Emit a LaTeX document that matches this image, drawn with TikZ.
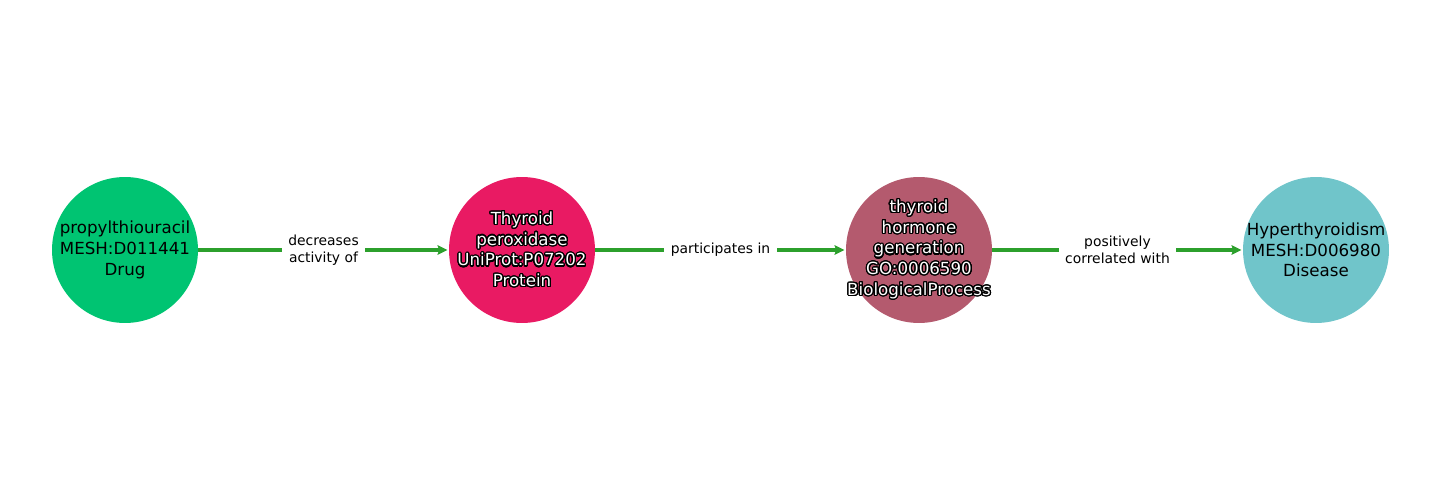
\documentclass[tikz,border=0pt]{standalone}
\usepackage{fontspec}
\setmainfont{DejaVu Sans}
\usepackage{xcolor}
\usepackage{contour}
\usetikzlibrary{arrows.meta,positioning}
\contourlength{0.9pt}
\contournumber{24}
\definecolor{drugcol}{HTML}{00C472}
\definecolor{protcol}{HTML}{E91A63}
\definecolor{proccol}{HTML}{B45A6E}
\definecolor{discol}{HTML}{70C5CA}
\definecolor{edgecol}{HTML}{2CA02C}
\newcommand{\halo}[1]{\contour{black}{\textcolor{white}{#1}}}

\begin{document}
\begin{tikzpicture}[x=0.72pt,y=0.72pt,node distance=285.84pt,
  entity/.style={circle,minimum size=105.1pt,inner sep=0pt},
  caption/.style={align=center,inner sep=0pt,
    font=\fontsize{12}{14.9}\selectfont},
  every edge/.append style={draw=edgecol,line width=2.2pt,
    -{Stealth[length=7pt,width=6.8pt,inset=1pt]},shorten >=1pt},
  rel/.style={fill=white,align=center,inner xsep=4.6pt,inner ysep=2pt,
    font=\fontsize{10}{12.2}\selectfont}]
  \useasboundingbox (0,0) rectangle (1440,500);
  \node[entity,fill=drugcol] (1) at (125,250) {};
  \node[entity,fill=protcol] (2) [right of=1] {};
  \node[entity,fill=proccol] (3) [right of=2] {};
  \node[entity,fill=discol] (4) [right of=3] {};
  % texts on top of the circles
  \node[caption] (1t) at (1) {propylthiouracil\\MESH:D011441\\Drug};
  \node[caption] (2t) at (2) {\halo{Thyroid}\\\halo{peroxidase}\\\halo{UniProt:P07202}\\\halo{Protein}};
  \node[caption] (3t) at (3) {\halo{thyroid}\\\halo{hormone}\\\halo{generation}\\\halo{GO:0006590}\\\halo{BiologicalProcess}};
  \node[caption] (4t) at (4) {Hyperthyroidism\\MESH:D006980\\Disease};
  \path (1) edge node[rel]{decreases\\activity of} (2)
        (2) edge node[rel]{participates in} (3)
        (3) edge node[rel]{positively\\correlated with} (4);
\end{tikzpicture}
\end{document}
